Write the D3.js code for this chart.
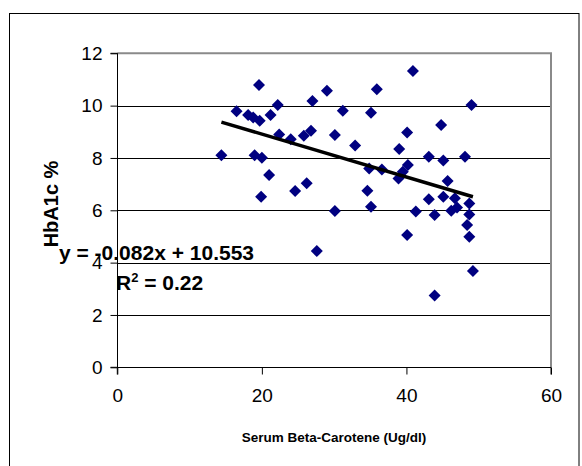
<!DOCTYPE html>
<html>
<head>
<meta charset="utf-8">
<script src="https://cdn.jsdelivr.net/npm/d3@7"></script>
<style>
  html, body { margin: 0; padding: 0; background: #fff; }
  svg { display: block; font-family: "Liberation Sans", Arial, sans-serif; }
</style>
</head>
<body>
<div id="chart"></div>
<script>
// ---- data ----
const betaCarotene = [14.4, 16.5, 18.1, 18.8, 19.6, 19.7, 19.0, 20.0, 19.9, 21.2,
  22.2, 21.0, 22.4, 24.0, 24.6, 25.8, 26.2, 26.8, 27.0, 27.6,
  29.0, 30.1, 30.1, 31.2, 32.9, 35.1, 35.9, 34.85, 34.6, 35.1,
  36.6, 39.0, 38.9, 39.5, 40.1, 40.2, 40.1, 40.9, 41.3, 43.1,
  43.1, 43.9, 43.9, 44.8, 45.1, 45.1, 45.7, 46.2, 46.7, 47.0,
  48.1, 48.7, 48.7, 48.4, 48.7, 49.0, 49.2];
const hba1c = [8.10, 9.79, 9.64, 9.55, 10.79, 9.42, 8.10, 8.01, 6.52, 9.64,
  10.02, 7.35, 8.90, 8.72, 6.74, 8.85, 7.03, 9.04, 10.18, 4.44,
  10.57, 8.88, 5.97, 9.80, 8.48, 9.73, 10.63, 7.60, 6.75, 6.14,
  7.56, 8.34, 7.22, 7.47, 8.97, 7.73, 5.06, 11.32, 5.95, 8.05,
  6.42, 5.82, 2.74, 9.26, 7.90, 6.52, 7.12, 5.98, 6.46, 6.11,
  8.05, 6.26, 5.84, 5.44, 4.99, 10.02, 3.68];
const xTicks = [0, 20, 40, 60];
const yTicks = [0, 2, 4, 6, 8, 10, 12];
const trendSlope = -0.082;
const trendIntercept = 10.553;
const trendRange = [14.4, 49.2];
const equationLabel = "y = -0.082x + 10.553";
const r2Value = "0.22";
const xTitle = "Serum Beta-Carotene (Ug/dl)";
const yTitle = "HbA1c %";

// ---- layout ----
const W = 582, H = 466;
const plot = { left: 117.3, right: 551, top: 53.3, bottom: 367.3 };

const svg = d3.select("#chart").append("svg")
  .attr("width", W).attr("height", H);

// outer chart border
svg.append("rect")
  .attr("x", 9.5).attr("y", 13.5)
  .attr("width", 569.5).attr("height", 470)
  .attr("fill", "none").attr("stroke", "#000").attr("stroke-width", 1);

const x = d3.scaleLinear().domain([0, 60]).range([plot.left, plot.right]);
const y = d3.scaleLinear().domain([0, 12]).range([plot.bottom, plot.top]);

// gridlines
svg.append("g").selectAll("line")
  .data(yTicks.filter(d => d > 0 && d < 12))
  .join("line")
  .attr("x1", plot.left).attr("x2", plot.right)
  .attr("y1", d => Math.round(y(d)) + 0.5).attr("y2", d => Math.round(y(d)) + 0.5)
  .attr("stroke", "#000").attr("stroke-width", 1);

// plot frame top/right (gray)
svg.append("path")
  .attr("d", `M${plot.left},${y(12)} H${x(60)} V${y(0)}`)
  .attr("fill", "none").attr("stroke", "#8a8a8a").attr("stroke-width", 2);

// axes
const xAxis = d3.axisBottom(x).tickValues(xTicks).tickSize(7).tickPadding(14);
const yAxis = d3.axisLeft(y).tickValues(yTicks).tickSize(7).tickPadding(8);

const gx = svg.append("g").attr("transform", `translate(0,${Math.round(plot.bottom) + 0.5})`).call(xAxis);
const gy = svg.append("g").attr("transform", `translate(${Math.round(plot.left) + 0.5},0)`).call(yAxis);
[gx, gy].forEach(g => {
  g.select(".domain").attr("stroke", "#000").attr("stroke-width", 1);
  g.selectAll(".tick line").attr("stroke", "#000");
  g.selectAll(".tick text")
    .attr("fill", "#000")
    .style("font-size", "19px")
    .style("font-family", "'Liberation Sans', Arial, sans-serif");
});
gy.select(".domain").attr("d", `M-7,${y(0)}H0V${y(12)}H-7`);
gx.select(".domain").attr("d", `M${x(0)},7V0H${x(60)}V7`);

// points (diamonds)
const pts = betaCarotene.map((v, i) => ({ x: v, y: hba1c[i] }));
const r = 6;
svg.append("g").selectAll("path")
  .data(pts)
  .join("path")
  .attr("transform", d => `translate(${x(d.x)},${y(d.y)})`)
  .attr("d", `M0,${-r}L${r},0L0,${r}L${-r},0Z`)
  .attr("fill", "#000080");

// trend line
const line = d3.line().x(d => x(d)).y(d => y(trendSlope * d + trendIntercept));
svg.append("path")
  .datum(trendRange)
  .attr("d", line)
  .attr("fill", "none").attr("stroke", "#000").attr("stroke-width", 3.5);

// axis titles
svg.append("text")
  .attr("x", 334).attr("y", 442)
  .attr("text-anchor", "middle")
  .style("font-size", "13.5px").style("font-weight", "bold")
  .text(xTitle);

svg.append("text")
  .attr("transform", "translate(58,204) rotate(-90)")
  .attr("text-anchor", "middle")
  .style("font-size", "20px").style("font-weight", "bold")
  .text(yTitle);

// equation labels
svg.append("text")
  .attr("x", 59).attr("y", 260)
  .style("font-size", "21px").style("font-weight", "bold")
  .text(equationLabel);

const r2 = svg.append("text")
  .attr("x", 116).attr("y", 290)
  .style("font-size", "21px").style("font-weight", "bold");
r2.append("tspan").text("R");
r2.append("tspan").attr("dy", -8).style("font-size", "13px").text("2");
r2.append("tspan").attr("dy", 8).text(" = " + r2Value);
</script>
</body>
</html>
